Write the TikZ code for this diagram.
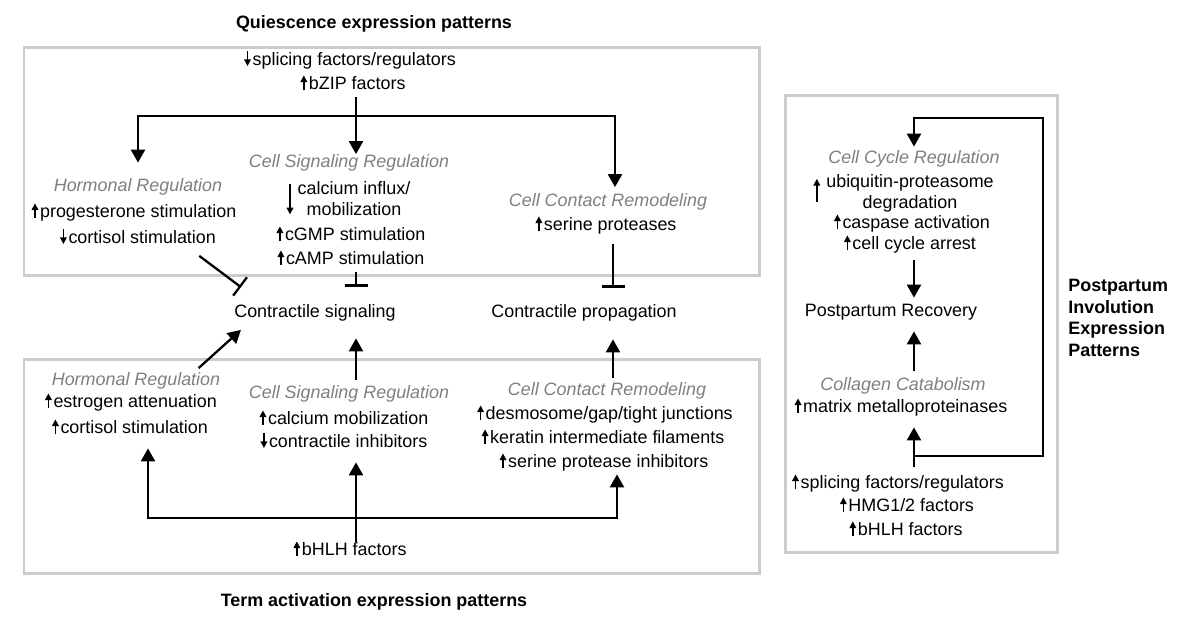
\documentclass[tikz,border=0pt]{standalone}
\usepackage{fontspec}
\setmainfont{Liberation Sans}
\usetikzlibrary{arrows.meta,calc}
\definecolor{labelgray}{HTML}{7F7F7F}
\definecolor{framegray}{HTML}{CCCCCC}
\newcommand{\upar}{\tikz[baseline=0pt]\draw[line width=0.8pt,-{Triangle[length=3.8pt,width=3.8pt]}] (0,-0.3pt) -- (0,8pt);\hspace{1pt}}
\newcommand{\dnar}{\tikz[baseline=0pt]\draw[line width=0.8pt,-{Triangle[length=3.8pt,width=3.8pt]}] (0,8pt) -- (0,-0.3pt);\hspace{1pt}}
\newcommand{\dnlong}{\llap{\smash{\tikz[baseline=0pt]\draw[line width=0.8pt,-{Triangle[length=3.8pt,width=3.8pt]}] (0,6.2pt) -- (0,-11.3pt);}\hspace{2.5pt}}}
\newcommand{\uplong}{\llap{\smash{\tikz[baseline=0pt]\draw[line width=0.8pt,-{Triangle[length=3.8pt,width=3.8pt]}] (0,-8pt) -- (0,5pt);}\hspace{3.5pt}}}
\begin{document}
\begin{tikzpicture}[x=0.02cm,y=-0.02cm,
  txt/.style={inner sep=0pt,font=\fontsize{10.2}{11.9}\selectfont,text height=7.4pt,text depth=2.3pt},
  multi/.style={inner sep=0pt,font=\fontsize{10.2}{11.9}\selectfont,align=center},
  cat/.style={txt,text=labelgray,font=\fontsize{10.2}{11.9}\selectfont\itshape},
  head/.style={inner sep=0pt,font=\fontsize{10.2}{12.3}\selectfont\bfseries},
  frame/.style={draw=framegray,line width=1.7pt},
  arr/.style={line width=1.3pt,-{Triangle[length=0.26cm,width=0.28cm]}},
  inh/.style={line width=1.3pt,-{Bar[width=0.46cm]}}]
\useasboundingbox (0,0) rectangle (1200,630);

\draw[frame] (24,47) rectangle (759,275);
\draw[frame] (24,359) rectangle (759,573);
\draw[frame] (785,95) rectangle (1057,552);

\node[head] (qtitle) at (374,24) {Quiescence expression patterns};
\node[head] (btitle) at (374,602) {Term activation expression patterns};
\node[head,align=left,anchor=west] (rtitle) at (1068,318) {Postpartum\\Involution\\Expression\\Patterns};

\node[txt] (qspl) at (350,61) {\dnar splicing factors/regulators};
\node[txt] (bzip) at (353,85) {\upar bZIP factors};
\node[cat] (qhorm) at (138,187) {Hormonal Regulation};
\node[txt] (qprog) at (134,213) {\upar progesterone stimulation};
\node[txt] (qcort) at (138,239) {\dnar cortisol stimulation};
\node[cat] (qsig) at (349,163) {Cell Signaling Regulation};
\node[multi] (qca) at (354,198.5) {\dnlong calcium influx/\\mobilization};
\node[txt] (qcgmp) at (351,236) {\upar cGMP stimulation};
\node[txt] (qcamp) at (351,260) {\upar cAMP stimulation};
\node[cat] (qcon) at (608,202) {Cell Contact Remodeling};
\node[txt] (qser) at (606,226) {\upar serine proteases};

\node[txt] (csig) at (315,313) {Contractile signaling};
\node[txt] (cprop) at (584,313) {Contractile propagation};

\node[cat] (bhorm) at (136,381) {Hormonal Regulation};
\node[txt] (bestr) at (131,403) {\upar estrogen attenuation};
\node[txt] (bcort) at (130,429) {\upar cortisol stimulation};
\node[cat] (bsig) at (349,394) {Cell Signaling Regulation};
\node[txt] (bca) at (344,420) {\upar calcium mobilization};
\node[txt] (binh) at (344,443) {\dnar contractile inhibitors};
\node[txt] (bhlh) at (350,551) {\upar bHLH factors};
\node[cat] (bcon) at (607,391) {Cell Contact Remodeling};
\node[txt] (bdes) at (605,415) {\upar desmosome/gap/tight junctions};
\node[txt] (bker) at (603,439) {\upar keratin intermediate filaments};
\node[txt] (bserinh) at (604,463) {\upar serine protease inhibitors};

\node[cat] (rccr) at (914,159) {Cell Cycle Regulation};
\node[multi] (rubi) at (910,193.5) {\uplong ubiquitin-proteasome\\degradation};
\node[txt] (rcas) at (912,224) {\upar caspase activation};
\node[txt] (rarr) at (910,245) {\upar cell cycle arrest};
\node[txt] (rrec) at (891,312) {Postpartum Recovery};
\node[cat] (rcoll) at (903,386) {Collagen Catabolism};
\node[txt] (rmmp) at (901,408) {\upar matrix metalloproteinases};
\node[txt] (rspl) at (898,484) {\upar splicing factors/regulators};
\node[txt] (rhmg) at (907,507) {\upar HMG1/2 factors};
\node[txt] (rbhlh) at (906,531) {\upar bHLH factors};

\coordinate (qfork) at (356,116);
\coordinate (rcol) at (613,0);
\coordinate (bfork) at (356,518);
\coordinate (rfork) at (914,456);
\coordinate (rloop) at (1043,118);

\draw[arr,shorten <=0.07cm] (bzip.south -| qfork) -- (qsig.north -| qfork);
\draw[arr,shorten >=0.31cm] (qfork) -| (qhorm.north);
\draw[arr,shorten >=0.12cm] (qfork) -| ($(qcon.north -| rcol)+(2,0)$);
\draw[inh] ($(qcort.south east)+(-17,8)$) -- ($(csig.north west)+(7,-17)$);
\draw[inh,shorten <=0.07cm,shorten >=0.35cm] (qcamp.south -| qfork) -- (csig.north -| qfork);
\draw[inh,shorten <=0.19cm,shorten >=0.33cm] (qser.south -| rcol) -- (cprop.north -| rcol);

\draw[arr] ($(bhorm.north east)+(-22,-4)$) -- ($(csig.south west)+(7,8)$);
\draw[arr,shorten <=0.11cm,shorten >=0.33cm] (bsig.north -| qfork) -- (csig.south -| qfork);
\draw[arr,shorten <=0.09cm,shorten >=0.35cm] (bcon.north -| rcol) -- (cprop.south -| rcol);
\draw[arr,shorten >=0.21cm] (bhlh.north -| bfork) -- (binh.south -| bfork);
\draw[arr,shorten >=0.21cm] (bfork) -| ($(bcort.south)+(18,0)$);
\draw[arr,shorten >=0.05cm] (bfork) -| ($(bserinh.south)+(13,0)$);

\draw[arr,shorten <=0.17cm,shorten >=0.21cm] (rspl.north -| rfork) -- (rmmp.south -| rfork);
\draw[arr,shorten >=0.07cm] (rfork) -| (rloop) -| (rccr.north);
\draw[arr,shorten <=0.13cm,shorten >=0.11cm] (rarr.south -| rfork) -- (rrec.north -| rfork);
\draw[arr,shorten <=0.13cm,shorten >=0.21cm] (rcoll.north -| rfork) -- (rrec.south -| rfork);
\end{tikzpicture}
\end{document}
